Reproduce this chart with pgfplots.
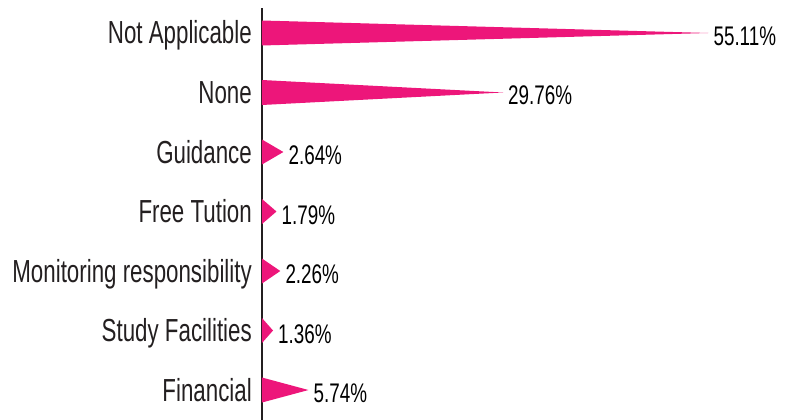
\documentclass[border=0pt]{standalone}
\usepackage{fontspec}
\setmainfont{Liberation Sans}[FakeStretch=0.70]
\usepackage{pgfplots}
\pgfplotsset{compat=1.18}
\definecolor{spike}{RGB}{237,22,122}
\definecolor{axisgray}{RGB}{35,31,32}
\begin{document}
\begin{tikzpicture}
\begin{axis}[
  scale only axis, width=523bp, height=412bp,
  xmin=0, xmax=64.57,
  ymin=-0.42, ymax=6.504, y dir=reverse,
  axis x line=none, axis y line*=left,
  axis line style={axisgray, line width=1.6bp},
  xtick=\empty,
  ytick={0,...,6},
  yticklabels={Not Applicable,None,Guidance,Free Tution,Monitoring responsibility,Study Facilities,Financial},
  ytick style={draw=none}, major tick length=0pt,
  yticklabel style={font=\fontsize{32}{35}\selectfont, anchor=east, inner sep=0pt,
    xshift=-10bp, text height=22bp, text depth=0bp, text=axisgray},
  clip=false,
]
% spikes: base on the axis, tip at the value
\addplot[fill=spike, draw=none] coordinates {(0,-0.21) (55.11,0) (0,0.21)} -- cycle;
\addplot[fill=spike, draw=none] coordinates {(0,0.79) (29.76,1) (0,1.21)} -- cycle;
\addplot[fill=spike, draw=none] coordinates {(0,1.79) (2.64,2) (0,2.21)} -- cycle;
\addplot[fill=spike, draw=none] coordinates {(0,2.79) (1.79,3) (0,3.21)} -- cycle;
\addplot[fill=spike, draw=none] coordinates {(0,3.79) (2.26,4) (0,4.21)} -- cycle;
\addplot[fill=spike, draw=none] coordinates {(0,4.79) (1.36,5) (0,5.21)} -- cycle;
\addplot[fill=spike, draw=none] coordinates {(0,5.79) (5.74,6) (0,6.21)} -- cycle;
% value labels
\addplot[draw=none, mark=none, nodes near coords, point meta=explicit symbolic,
  nodes near coords style={anchor=west, inner sep=0pt, xshift=5bp, yshift=-3bp,
    font=\fontsize{27}{30}\selectfont, text height=19bp, text depth=0bp, text=black}]
  coordinates {(55.11,0) [55.11\%] (29.76,1) [29.76\%] (2.64,2) [2.64\%]
    (1.79,3) [1.79\%] (2.26,4) [2.26\%] (1.36,5) [1.36\%] (5.74,6) [5.74\%]};
\end{axis}
\pgfresetboundingbox
\path ([xshift=-262bp,yshift=8bp]current axis.north west) rectangle (current axis.south east);
\end{tikzpicture}
\end{document}
